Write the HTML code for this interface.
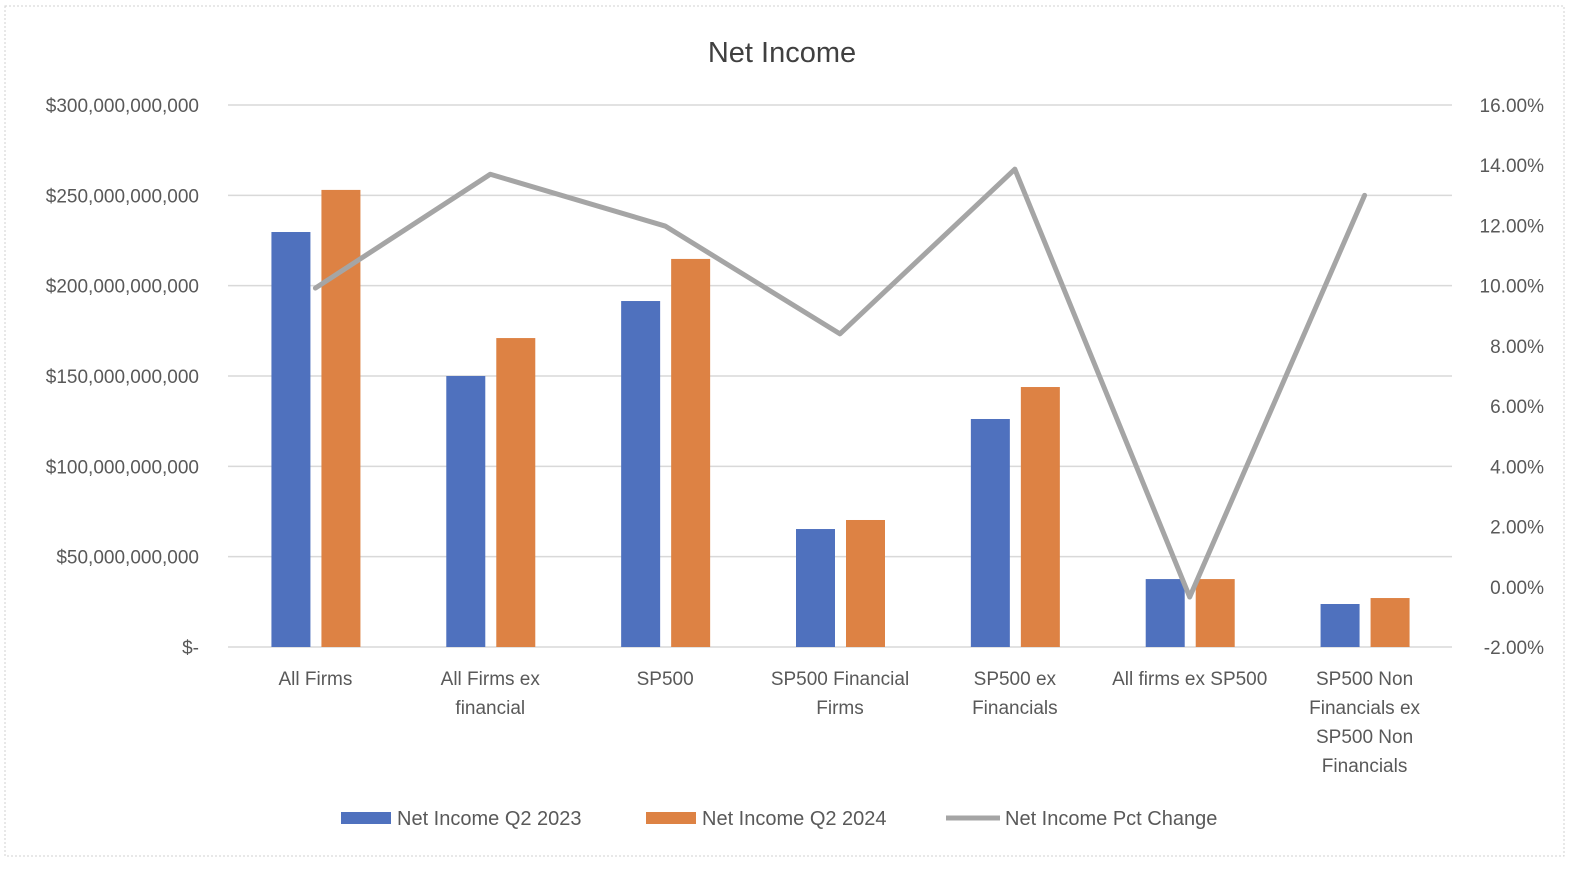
<!DOCTYPE html>
<html><head><meta charset="utf-8"><style>
body{margin:0;background:#fff;}
svg{display:block;font-family:"Liberation Sans",sans-serif;}
</style></head><body>
<svg id="chart" width="1581" height="872">
<rect x="5" y="6" width="1559" height="850" fill="#fff" stroke="#d0d0d0" stroke-dasharray="2,2"/>
<text x="782" y="62" text-anchor="middle" font-size="29" fill="#404040">Net Income</text>
<g id="grid"></g><g id="bars"></g><g id="line"></g><g id="axes"></g>
<g>
<rect x="341" y="812" width="50" height="12" fill="#4f71be"/>
<text x="397" y="825" font-size="20" fill="#595959">Net Income Q2 2023</text>
<rect x="646" y="812" width="50" height="12" fill="#dd8244"/>
<text x="702" y="825" font-size="20" fill="#595959">Net Income Q2 2024</text>
<line x1="946" y1="818" x2="1000" y2="818" stroke="#a5a5a5" stroke-width="5"/>
<text x="1005" y="825" font-size="20" fill="#595959">Net Income Pct Change</text>
</g>
</svg>
<script>
const categories=[["All Firms"],["All Firms ex","financial"],["SP500"],["SP500 Financial","Firms"],["SP500 ex","Financials"],["All firms ex SP500"],["SP500 Non","Financials ex","SP500 Non","Financials"]];
const q2023=[229.7,150,191.5,65.3,126.2,37.6,23.8];
const q2024=[253,171,214.8,70.3,143.9,37.6,27.1];
const pctChange=[9.92,13.7,11.98,8.4,13.87,-0.34,13.0];
const leftTicks=["$-","$50,000,000,000","$100,000,000,000","$150,000,000,000","$200,000,000,000","$250,000,000,000","$300,000,000,000"];
const rightTicks=["-2.00%","0.00%","2.00%","4.00%","6.00%","8.00%","10.00%","12.00%","14.00%","16.00%"];

const NS="http://www.w3.org/2000/svg";
const X0=228,X1=1452,Y0=647,Y1=105;
const n=categories.length,step=(X1-X0)/n;
const yL=v=>Y0-(v/300)*(Y0-Y1);
const yR=p=>Y0-((p+2)/18)*(Y0-Y1);
const cx=i=>X0+step*(i+0.5);
function mk(tag,attrs,parent){const e=document.createElementNS(NS,tag);for(const k in attrs)e.setAttribute(k,attrs[k]);parent.appendChild(e);return e;}
const grid=document.getElementById('grid'),bars=document.getElementById('bars'),line=document.getElementById('line'),axes=document.getElementById('axes');
leftTicks.forEach((t,i)=>{const y=yL(i*50);
 const g=mk('line',{x1:X0,x2:X1,y1:y,y2:y,stroke:'#d9d9d9','stroke-width':1.5},grid);
 
 
 const tx=mk('text',{x:199,y:y+7,'text-anchor':'end','font-size':19,fill:'#595959'},axes);tx.textContent=t;
 
 
});
rightTicks.forEach((t,i)=>{const y=yR(-2+i*2);
 const tx=mk('text',{x:1544,y:y+7,'text-anchor':'end','font-size':19,fill:'#595959'},axes);tx.textContent=t;
 
 
});
categories.forEach((c,i)=>{
 const b1=mk('rect',{x:cx(i)-44,y:yL(q2023[i]),width:39,height:Y0-yL(q2023[i]),fill:'#4f71be'},bars);
 
 
 const b2=mk('rect',{x:cx(i)+6,y:yL(q2024[i]),width:39,height:Y0-yL(q2024[i]),fill:'#dd8244'},bars);
 
 
 c.forEach((l,j)=>{const tx=mk('text',{x:cx(i),y:685+j*29,'text-anchor':'middle','font-size':19,fill:'#595959'},axes);tx.textContent=l;
  
  });
});
const pl=mk('polyline',{points:pctChange.map((p,i)=>cx(i)+','+yR(p)).join(' '),fill:'none',stroke:'#a5a5a5','stroke-width':5,'stroke-linejoin':'round','stroke-linecap':'round'},line);


</script>
</body></html>
